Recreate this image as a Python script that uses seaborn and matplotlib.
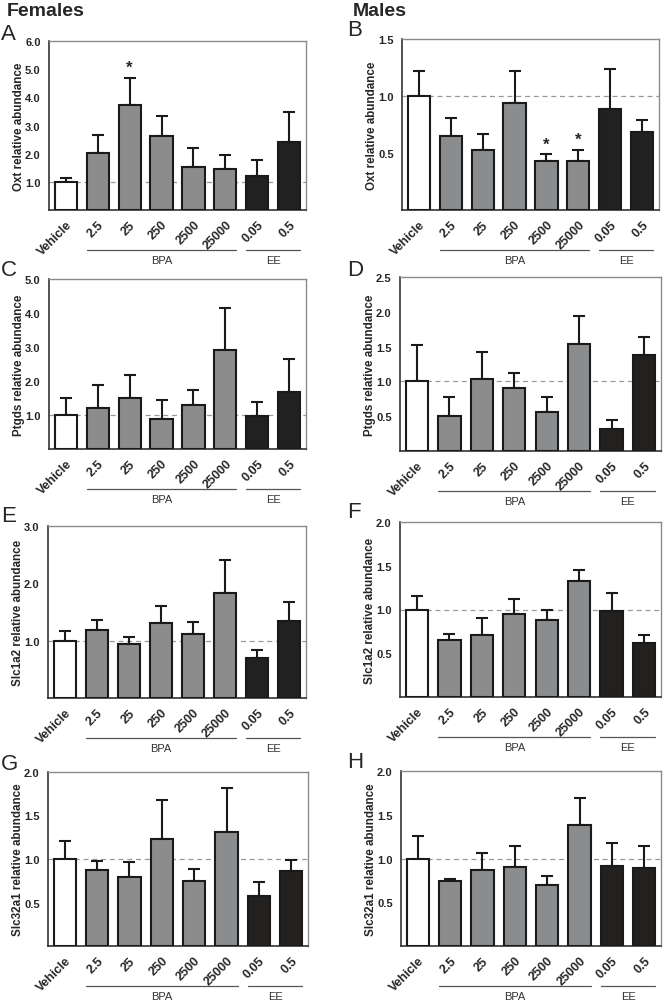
import numpy as np
import matplotlib
matplotlib.use("Agg")
import matplotlib.pyplot as plt
import matplotlib.transforms as mtransforms
import seaborn as sns

# -----------------------------
# Data
# -----------------------------
doses = ["Vehicle", "2.5", "25", "250", "2500", "25000", "0.05", "0.5"]
bar_colors = ["#ffffff"] + ["#8b8c8e"] * 5 + ["#231f20"] * 2

oxt_f = [1.00, 2.03, 3.73, 2.63, 1.51, 1.46, 1.20, 2.41]
oxt_f_err = [1.15, 2.67, 4.69, 3.32, 2.20, 1.94, 1.79, 3.49]
oxt_f_star = [2]

oxt_m = [1.00, 0.647, 0.525, 0.936, 0.434, 0.43, 0.89, 0.68]
oxt_m_err = [1.22, 0.81, 0.665, 1.22, 0.487, 0.528, 1.233, 0.79]
oxt_m_star = [4, 5]

ptgds_f = [1.00, 1.22, 1.51, 0.89, 1.30, 2.92, 0.97, 1.67]
ptgds_f_err = [1.50, 1.87, 2.17, 1.44, 1.75, 4.16, 1.37, 2.66]

ptgds_m = [1.00, 0.51, 1.03, 0.91, 0.565, 1.54, 0.32, 1.375]
ptgds_m_err = [1.52, 0.78, 1.42, 1.12, 0.77, 1.94, 0.45, 1.64]

slc1a2_f = [1.00, 1.18, 0.94, 1.31, 1.12, 1.83, 0.69, 1.35]
slc1a2_f_err = [1.16, 1.36, 1.07, 1.61, 1.32, 2.41, 0.84, 1.68]

slc1a2_m = [1.00, 0.648, 0.712, 0.952, 0.88, 1.33, 0.98, 0.617]
slc1a2_m_err = [1.16, 0.716, 0.907, 1.124, 0.99, 1.455, 1.19, 0.705]

slc32a1_f = [1.00, 0.87, 0.79, 1.235, 0.746, 1.31, 0.577, 0.865]
slc32a1_f_err = [1.21, 0.98, 0.97, 1.68, 0.885, 1.815, 0.73, 0.99]

slc32a1_m = [1.00, 0.743, 0.87, 0.907, 0.697, 1.387, 0.92, 0.888]
slc32a1_m_err = [1.26, 0.766, 1.06, 1.143, 0.796, 1.69, 1.177, 1.143]

# -----------------------------
# Style
# -----------------------------
sns.set_style("white")
plt.rcParams['font.family'] = ['Liberation Sans', 'DejaVu Sans']

W, H = 666, 1004
fig = plt.figure(figsize=(W / 100, H / 100), dpi=100)


def px_axes(left, right, top, bottom):
    return fig.add_axes([left / W, 1 - bottom / H, (right - left) / W, (bottom - top) / H])


def panel(ax, vals, errs, ymax, step, ylabel, stars=()):
    sns.barplot(x=doses, y=vals, hue=doses, order=doses, hue_order=doses,
                palette=bar_colors, legend=False, errorbar=None, width=0.69,
                edgecolor="#1a1a1a", linewidth=1.5, ax=ax, zorder=3)
    x = np.arange(len(doses))
    up = np.array(errs) - np.array(vals)
    ax.errorbar(x, vals, yerr=[np.zeros(len(x)), up], fmt="none", ecolor="#1a1a1a",
                elinewidth=1.5, capsize=4, capthick=1.5, zorder=2)
    ax.axhline(1.0, color="#9a9a9a", ls=(0, (4, 3)), lw=0.9, zorder=1)
    for i in stars:
        ax.annotate("*", xy=(i, errs[i]), xytext=(0, 2), textcoords="offset points",
                    ha="center", va="bottom", fontsize=12, fontweight="bold")
    ax.set_xlim(-0.52, 7.52)
    ax.set_ylim(0, ymax)
    ticks = np.arange(step, ymax + step / 2, step)
    ax.set_yticks(ticks)
    ax.set_yticklabels([f"{t:.1f}" for t in ticks], fontsize=8, fontweight="bold")
    ax.set_xticks(x)
    ax.set_xticklabels(doses, rotation=45, ha="right", rotation_mode="anchor",
                       fontsize=9, fontweight="bold")
    ax.tick_params(axis="both", direction="out", length=4, width=1, color="#333333", pad=2)
    ax.set_xlabel("")
    ax.set_ylabel(ylabel, fontsize=8.4, fontweight="bold", labelpad=0)
    for side in ["left", "bottom"]:
        ax.spines[side].set_color("#333333")
        ax.spines[side].set_linewidth(1.2)
    for side in ["top", "right"]:
        ax.spines[side].set_color("#8a8a8a")
        ax.spines[side].set_linewidth(1.0)

    # group brackets below tick labels
    tr = mtransforms.offset_copy(ax.get_xaxis_transform(), fig=fig, y=-29, units="points")
    tr_txt = mtransforms.offset_copy(ax.get_xaxis_transform(), fig=fig, y=-36, units="points")
    for (a, b, name) in [(0.655, 5.345, "BPA"), (5.655, 7.345, "EE")]:
        ax.plot([a, b], [0, 0], color="#555555", lw=0.9, transform=tr, clip_on=False)
        ax.text((a + b) / 2, 0, name, transform=tr_txt, ha="center", va="center",
                fontsize=8, color="#333333")


axA = px_axes(49, 306, 42, 211)
axB = px_axes(402, 659, 40, 211)
axC = px_axes(49, 306, 280, 450)
axD = px_axes(400, 661, 278, 452)
axE = px_axes(48, 306, 527, 699)
axF = px_axes(400, 661, 523, 698)
axG = px_axes(48, 308, 773, 947)
axH = px_axes(401, 661, 772, 947)

panel(axA, oxt_f, oxt_f_err, 6.0, 1.0, "Oxt relative abundance", oxt_f_star)
panel(axB, oxt_m, oxt_m_err, 1.5, 0.5, "Oxt relative abundance", oxt_m_star)
panel(axC, ptgds_f, ptgds_f_err, 5.0, 1.0, "Ptgds relative abundance")
panel(axD, ptgds_m, ptgds_m_err, 2.5, 0.5, "Ptgds relative abundance")
panel(axE, slc1a2_f, slc1a2_f_err, 3.0, 1.0, "Slc1a2 relative abundance")
panel(axF, slc1a2_m, slc1a2_m_err, 2.0, 0.5, "Slc1a2 relative abundance")
panel(axG, slc32a1_f, slc32a1_f_err, 2.0, 0.5, "Slc32a1 relative abundance")
panel(axH, slc32a1_m, slc32a1_m_err, 2.0, 0.5, "Slc32a1 relative abundance")

# headers and panel letters
fig.text(7 / W, 1 - 12 / H, "Females", fontsize=14, fontweight="bold", va="center", ha="left")
fig.text(353 / W, 1 - 12 / H, "Males", fontsize=14, fontweight="bold", va="center", ha="left")
letters = [("A", 1, 35), ("B", 347, 31), ("C", 1, 270), ("D", 347, 270),
           ("E", 1, 517), ("F", 347, 513), ("G", 1, 765), ("H", 347, 763)]
for s, lx, ly in letters:
    fig.text(lx / W, 1 - ly / H, s, fontsize=16, va="center", ha="left")

plt.savefig("out.png", dpi=100)
